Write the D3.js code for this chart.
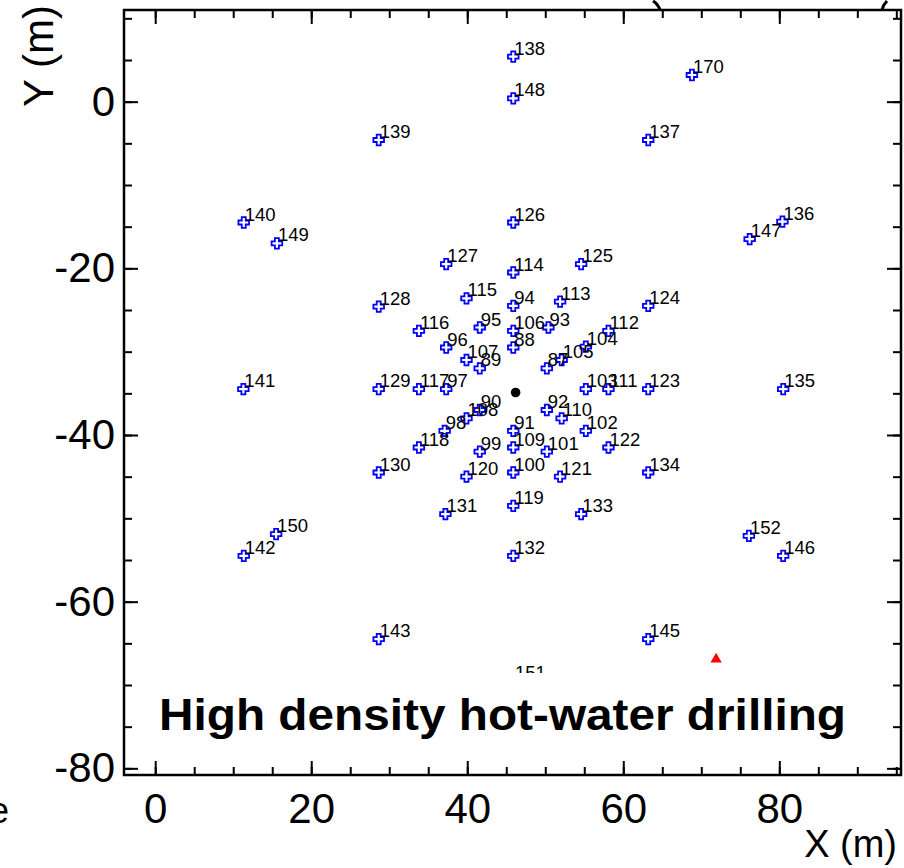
<!DOCTYPE html>
<html>
<head>
<meta charset="utf-8">
<script src="https://cdn.jsdelivr.net/npm/d3@7"></script>
<style>
  html, body { margin: 0; padding: 0; background: #fff; overflow: hidden; }
  svg { display: block; font-family: "Liberation Sans", Arial, Helvetica, sans-serif; }
</style>
</head>
<body>
<div id="chart"></div>
<script>
// hole positions (m)
const holeIds = [87, 88, 89, 90, 91, 92, 93, 94, 95, 96, 97, 98, 99, 100, 101, 102, 103, 104,
  105, 106, 107, 108, 109, 110, 111, 112, 113, 114, 115, 116, 117, 118, 119, 120, 121, 122,
  123, 124, 125, 126, 127, 128, 129, 130, 131, 132, 133, 134, 135, 136, 137, 138, 139, 140,
  141, 142, 143, 145, 146, 147, 148, 149, 150, 151, 152, 170];
const holeX = [50.2, 45.9, 41.6, 41.6, 45.9, 50.2, 50.4, 45.9, 41.6, 37.3, 37.3, 37.1, 41.6, 45.9, 50.2, 55.2, 55.2, 55.2,
  52.1, 45.9, 39.9, 39.9, 45.9, 52.1, 58.1, 58.1, 51.9, 45.9, 39.9, 33.8, 33.8, 33.8, 45.9, 39.9, 51.9, 58.1,
  63.2, 63.2, 54.6, 45.9, 37.3, 28.65, 28.65, 28.65, 37.2, 45.9, 54.6, 63.2, 80.5, 80.4, 63.2, 45.9, 28.65, 11.35,
  11.3, 11.35, 28.65, 63.2, 80.5, 76.2, 45.9, 15.6, 15.5, 46.0, 76.1, 68.8];
const holeY = [-32.0, -29.5, -32.0, -37.0, -39.5, -37.0, -27.1, -24.5, -27.1, -29.5, -34.5, -39.5, -42.0, -44.5, -42.0, -39.5, -34.5, -29.4,
  -31.0, -27.5, -31.0, -38.0, -41.5, -38.0, -34.5, -27.5, -24.0, -20.5, -23.6, -27.5, -34.5, -41.5, -48.5, -45.0, -45.0, -41.5,
  -34.5, -24.5, -19.5, -14.5, -19.5, -24.6, -34.5, -44.5, -49.5, -54.5, -49.5, -44.5, -34.5, -14.4, -4.6, 5.4, -4.6, -14.5,
  -34.5, -54.5, -64.5, -64.5, -54.5, -16.5, 0.4, -17.0, -51.9, -69.5, -52.1, 3.2];

const centreX = [46.2], centreY = [-34.9];
const triangleX = [71.9], triangleY = [-66.8];

const xMajor = [0, 20, 40, 60, 80];
const yMajor = [-80, -60, -40, -20, 0];
const xMinor = d3.range(0, 96, 5);
const yMinor = d3.range(-80, 11, 5);

const title = "High density hot-water drilling";

const width = 904, height = 868;
const frameL = 124, frameR = 901, frameT = 10, frameB = 775;

const svg = d3.select("#chart").append("svg")
  .attr("width", width)
  .attr("height", height);

const x = d3.scaleLinear().domain([-4, 95.6]).range([frameL, frameR]);
const y = d3.scaleLinear().domain([-80.8, 11]).range([frameB, frameT]);

// axes: ticks point into the frame on all four sides
function addAxis(axisFn, scale, values, size, tx, ty, labels, pad) {
  const g = svg.append("g")
    .attr("transform", `translate(${tx},${ty})`)
    .call(axisFn(scale).tickValues(values).tickSizeInner(-size).tickSizeOuter(0)
      .tickPadding(pad || 0).tickFormat(labels ? (d) => String(d) : ""));
  g.select(".domain").remove();
  g.selectAll(".tick line").attr("stroke", "#000").attr("stroke-width", 2);
  g.selectAll(".tick text").attr("fill", "#000").attr("font-size", 42)
    .attr("font-family", "Liberation Sans, Arial, sans-serif");
  return g;
}
addAxis(d3.axisBottom, x, xMinor, 8, 0, frameB);
addAxis(d3.axisBottom, x, xMajor, 14, 0, frameB, true, 18);
addAxis(d3.axisTop, x, xMinor, 8, 0, frameT);
addAxis(d3.axisTop, x, xMajor, 14, 0, frameT);
addAxis(d3.axisLeft, y, yMinor, 8, frameL, 0);
addAxis(d3.axisLeft, y, yMajor, 14, frameL, 0, true, 9);
addAxis(d3.axisRight, y, yMinor, 8, frameR, 0);
addAxis(d3.axisRight, y, yMajor, 14, frameR, 0);

svg.append("rect")
  .attr("x", frameL).attr("y", frameT)
  .attr("width", frameR - frameL).attr("height", frameB - frameT)
  .attr("fill", "none").attr("stroke", "#000").attr("stroke-width", 2.5);

// bits of something cut off above the frame
svg.append("path")
  .attr("d", "M653,1 Q658,4 660,10 M887,1 Q883,5 882,10")
  .attr("fill", "none").attr("stroke", "#000").attr("stroke-width", 3);

// holes
const holes = holeIds.map((id, i) => ({ id, x: holeX[i], y: holeY[i] }));
const a = 2, L = 5.3;
const cross = `M${-a},${-L}H${a}V${-a}H${L}V${a}H${a}V${L}H${-a}V${a}H${-L}V${-a}H${-a}Z`;

svg.append("g")
  .selectAll("path")
  .data(holes)
  .join("path")
  .attr("d", cross)
  .attr("transform", (d) => `translate(${x(d.x)},${y(d.y)})`)
  .attr("fill", "none")
  .attr("stroke", "#0000ff")
  .attr("stroke-width", 1.8);

svg.append("g")
  .selectAll("text")
  .data(holes)
  .join("text")
  .attr("x", (d) => x(d.x) + 1)
  .attr("y", (d) => y(d.y) - 2)
  .attr("font-size", 18.5)
  .attr("fill", "#000")
  .text((d) => d.id);

svg.append("g")
  .selectAll("circle")
  .data(centreX)
  .join("circle")
  .attr("cx", (d) => x(d))
  .attr("cy", (d, i) => y(centreY[i]))
  .attr("r", 4.8)
  .attr("fill", "#000");

svg.append("g")
  .selectAll("path")
  .data(triangleX)
  .join("path")
  .attr("d", d3.symbol(d3.symbolTriangle, 55))
  .attr("transform", (d, i) => `translate(${x(d)},${y(triangleY[i]) + 1})`)
  .attr("fill", "#ff0000");

// title box
svg.append("rect")
  .attr("x", 145).attr("y", 673)
  .attr("width", 720).attr("height", 85)
  .attr("fill", "#fff");
svg.append("text")
  .attr("x", 159).attr("y", 730)
  .attr("font-size", 44)
  .attr("font-weight", "bold")
  .attr("textLength", 687)
  .attr("lengthAdjust", "spacingAndGlyphs")
  .attr("fill", "#000")
  .text(title);

// axis titles
svg.append("text")
  .attr("x", 897).attr("y", 857)
  .attr("text-anchor", "end")
  .attr("font-size", 38)
  .attr("fill", "#000")
  .text("X (m)");
svg.append("text")
  .attr("transform", "translate(53,56) rotate(-90)")
  .attr("text-anchor", "middle")
  .attr("font-size", 42)
  .attr("fill", "#000")
  .text("Y (m)");

// stray letter from a neighbouring panel
svg.append("text")
  .attr("x", 9).attr("y", 823)
  .attr("text-anchor", "end")
  .attr("font-size", 36)
  .attr("fill", "#000")
  .text("e");
</script>
</body>
</html>
